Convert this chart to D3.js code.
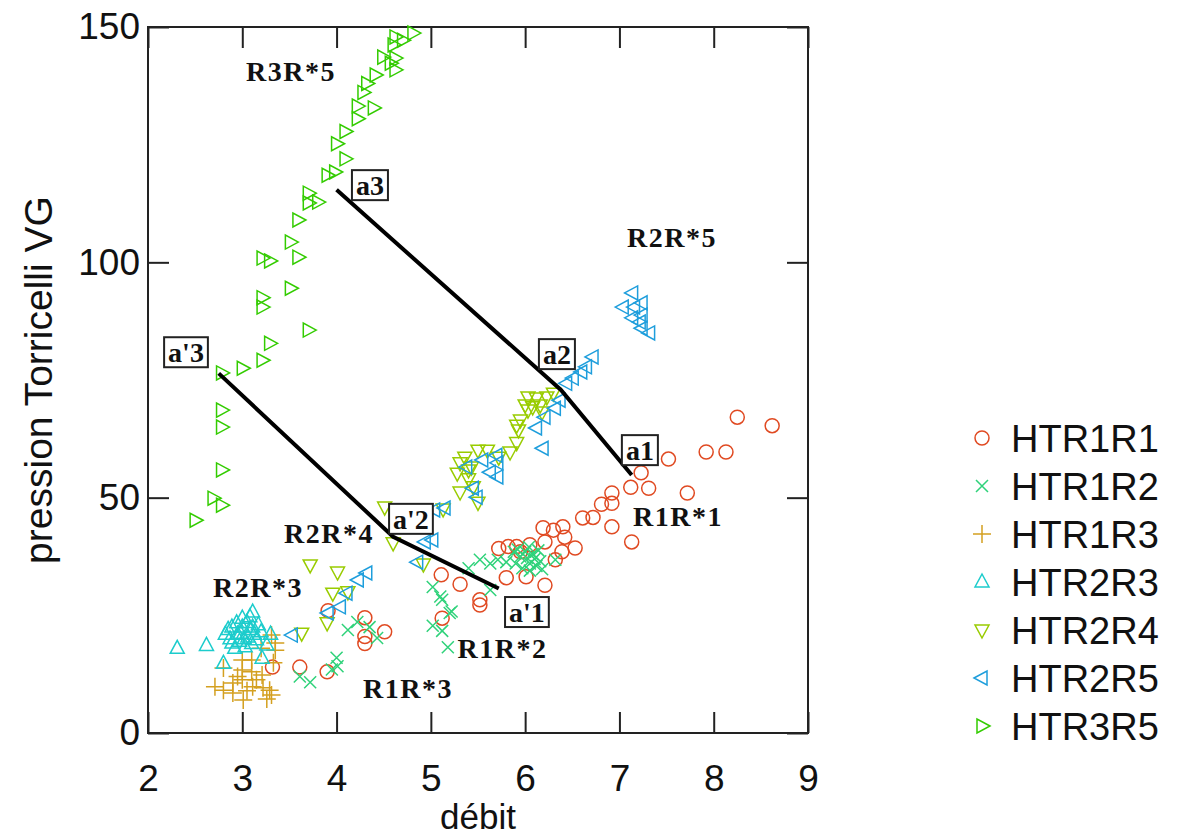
<!DOCTYPE html>
<html>
<head>
<meta charset="utf-8">
<script src="https://cdnjs.cloudflare.com/ajax/libs/d3/7.8.5/d3.min.js"></script>
<style>
body { margin: 0; background: #fff; }
text { font-family: "Liberation Sans", Arial, sans-serif; fill: #111; }
.note { font-family: "Liberation Serif", "Times New Roman", serif; font-weight: bold; }
</style>
</head>
<body>
<div id="scatter"></div>
<script>
// data: [débit, pression]
var seriesNames = ["HTR1R1", "HTR1R2", "HTR1R3", "HTR2R3", "HTR2R4", "HTR2R5", "HTR3R5"];

var htr1r1 = [[3.32,14],[3.61,14],[3.9,13],[3.91,26],[4.3,24.5],[4.3,20.5],[4.3,19],[4.51,21.5],
    [5.11,33.6],[5.12,24.4],[5.31,31.6],[5.52,28.3],[5.52,27.2],[5.72,39.2],[5.8,33],[5.82,39.6],
    [5.91,39.6],[5.95,38.5],[6.01,33.2],[6.05,40],[6.19,43.6],[6.21,40.6],[6.21,31.4],[6.3,43.1],
    [6.32,36.8],[6.39,38.5],[6.4,43.8],[6.42,41.6],[6.53,39.3],[6.61,45.7],[6.72,45.8],[6.81,48.6],
    [6.92,51],[6.92,48.8],[6.92,43.8],[7.12,52.2],[7.13,40.6],[7.23,55.3],[7.31,52],[7.52,58.2],
    [7.72,51],[7.92,59.7],[8.13,59.7],[8.25,67.1],[8.62,65.3]];

var htr1r2 = [[3.61,12],[3.72,10.8],[3.95,13.5],[4.0,16],[4.01,14.2],[4.12,21.9],[4.22,23.6],
    [4.35,22.5],[4.43,20.2],[5.02,31],[5.1,29],[5.12,28.3],[5.2,25.5],[5.22,25.8],[5.02,22.8],
    [5.12,21.7],[5.18,18.2],[5.4,35],[5.52,36.8],[5.63,36],[5.63,30.4],[5.71,36.8],[5.8,36.3],
    [5.88,38.5],[5.9,36],[5.92,39],[5.95,37.5],[5.97,35],[6.0,38.5],[6.02,37.2],[6.04,39.5],
    [6.05,36],[6.08,38],[6.1,37],[6.12,35.5],[6.14,38.8],[6.16,36.5],[6.18,34.8],[6.05,34.5],[6.32,36.8]];

var htr1r3 = [[2.71,9.8],[2.8,13.8],[2.8,9.1],[2.9,8.5],[2.9,10.6],[3.0,15.5],[3.0,13.4],[3.0,11.3],
    [3.01,7],[3.05,9],[3.1,15.5],[3.1,13],[3.11,9.8],[3.15,11.3],[3.21,12.3],[3.22,9.6],[3.26,7.2],
    [3.29,9.1],[3.31,8.1],[3.33,14.9],[3.35,17.6],[3.35,19.1],[3.31,20.8],[3.2,18],[2.95,12]];

var htr2r3 = [[2.31,18],[2.62,18.6],[2.8,14.8],[2.82,21],[2.85,22],[2.87,20],[2.89,22.5],[2.89,19.1],
    [2.92,18],[2.94,23.4],[2.95,21],[2.97,19.5],[2.98,21.2],[3.0,24.4],[3.0,22.5],[3.02,20],
    [3.03,18.3],[3.05,23.5],[3.06,20.4],[3.08,24.7],[3.08,22],[3.1,19],[3.11,25.7],[3.11,22.5],
    [3.13,21],[3.15,19.8],[3.17,23],[3.2,21.5],[3.21,15.9],[3.26,18.7],[3.3,21]];

var htr2r4 = [[3.63,21.2],[3.72,35.7],[3.9,23.4],[3.96,29.7],[4.01,34.2],[4.12,30],[4.51,48],
    [4.6,40.4],[4.92,35.9],[5.13,47.6],[5.28,55.2],[5.31,57.4],[5.31,51.2],[5.36,58.6],[5.4,55.9],
    [5.4,54],[5.43,56.5],[5.45,52.3],[5.5,49],[5.5,60.1],[5.6,60.1],[5.72,58.6],[5.84,59.7],
    [5.91,61.7],[5.91,65.4],[5.93,64.4],[5.95,66.5],[6.0,69.7],[6.03,71.4],[6.03,68.6],[6.08,69.3],
    [6.12,71.2],[6.16,69.7],[6.18,68.2],[6.23,71.4],[6.3,72.2]];

var htr2r5 = [[3.53,20.8],[3.91,25.5],[4.04,26.8],[4.11,29.7],[4.23,32.5],[4.32,34],[4.86,36.3],
    [4.94,40.6],[5.02,41],[5.04,47.4],[5.15,47.8],[5.38,56.5],[5.45,52],[5.49,50.1],[5.55,58],
    [5.63,55.4],[5.7,59],[5.71,57.4],[5.71,54.4],[6.12,64.8],[6.19,60.5],[6.21,67.1],[6.32,69],
    [6.37,70.7],[6.44,74.3],[6.51,75.4],[6.6,76.7],[6.65,77.8],[6.72,79.9],[7.04,90.5],[7.14,93.5],
    [7.16,90.5],[7.24,91.4],[7.14,88.2],[7.24,88.8],[7.22,87.3],[7.24,86],[7.32,85]];

var htr3r5 = [[2.5,45.2],[2.69,49.9],[2.78,48.4],[2.78,55.9],[2.78,65],[2.78,68.6],[2.78,76.5],
    [3.0,77.5],[3.21,79.2],[3.29,82.8],[3.7,85.6],[3.21,90.5],[3.21,92.5],[3.51,94.5],[3.21,100.9],
    [3.29,100.3],[3.51,104.3],[3.59,101.1],[3.59,109],[3.7,112.6],[3.7,114.7],[3.8,112.8],[3.9,118.5],
    [3.98,119.2],[4.09,122],[4.0,125.2],[4.09,127.8],[4.22,130.5],[4.22,133.2],[4.39,132.8],
    [4.28,136.1],[4.32,138],[4.41,139.8],[4.49,143.6],[4.57,142.3],[4.62,143.4],[4.62,140.9],
    [4.6,146.2],[4.62,147.9],[4.7,147.2],[4.81,148.7]];

// the two drawn lines a3-a2-a1 and a'3-a'2-a'1
var lineA = [[4.0,115.4],[6.38,72.9],[7.13,54.8]];
var lineA2 = [[2.75,76.4],[4.6,41.7],[5.72,30.7]];

// boxed points and group names
var boxLabels = [
    {text: "a3", x: 4.354, y: 116.4}, {text: "a2", x: 6.337, y: 80.5}, {text: "a1", x: 7.217, y: 60.1},
    {text: "a'3", x: 2.403, y: 80.9}, {text: "a'2", x: 4.789, y: 45.5}, {text: "a'1", x: 6.019, y: 25.7}
];
var groupLabels = [
    {text: "R3R*5", x: 3.516, y: 140.7}, {text: "R2R*5", x: 7.557, y: 105.4},
    {text: "R1R*1", x: 7.621, y: 46.1}, {text: "R2R*4", x: 3.919, y: 42.5},
    {text: "R2R*3", x: 3.166, y: 31.0}, {text: "R1R*2", x: 5.759, y: 18.1},
    {text: "R1R*3", x: 4.757, y: 9.6}
];

var xTicks = [2, 3, 4, 5, 6, 7, 8, 9];
var yTicks = [0, 50, 100, 150];

var allSeries = [htr1r1, htr1r2, htr1r3, htr2r3, htr2r4, htr2r5, htr3r5];
var colors = ["#e04a22", "#2fd27a", "#d4a020", "#1ccccc", "#99cc00", "#1e9edc", "#33cc00"];
var shapes = ["circle", "cross", "plus", "up", "down", "left", "right"];

// set up our chart
var svgWidth = 1178;
var svgHeight = 836;
var margin = {top: 27, right: 370, bottom: 103, left: 148};
var width = svgWidth - margin.left - margin.right;
var height = svgHeight - margin.top - margin.bottom;

var svg = d3.select("#scatter")
    .append("svg")
    .attr("width", svgWidth)
    .attr("height", svgHeight);

var chartGroup = svg.append("g")
    .attr("transform", `translate(${margin.left}, ${margin.top})`);

var xLinearScale = d3.scaleLinear().domain([2, 9]).range([0, width]);
var yLinearScale = d3.scaleLinear().domain([0, 150]).range([height, 0]);

// marker outline for each shape, centred on 0,0
function markerPath(shape) {
    if (shape === "circle") return "M-7,0a7,7 0 1,0 14,0a7,7 0 1,0 -14,0";
    if (shape === "cross") return "M-6,-6L6,6M-6,6L6,-6";
    if (shape === "plus") return "M-9,0L9,0M0,-9L0,9";
    if (shape === "up") return "M0,-8L7,5L-7,5Z";
    if (shape === "down") return "M0,8L7,-5L-7,-5Z";
    if (shape === "left") return "M-8,0L5,-7L5,7Z";
    return "M8,0L-5,-7L-5,7Z";
}

// inward ticks on all four sides
var tickLen = 21;
function styleAxis(g) {
    g.select(".domain").remove();
    g.selectAll(".tick line").attr("stroke", "#222").attr("stroke-width", 2);
    g.selectAll(".tick text").style("font-size", "37px").attr("fill", "#111");
}

chartGroup.append("g")
    .attr("transform", `translate(0, ${height})`)
    .call(d3.axisBottom(xLinearScale).tickValues(xTicks).tickSize(-tickLen).tickPadding(32).tickFormat(d3.format("d")))
    .call(styleAxis);

chartGroup.append("g")
    .call(d3.axisTop(xLinearScale).tickValues(xTicks).tickSize(-tickLen).tickFormat(""))
    .call(styleAxis);

chartGroup.append("g")
    .call(d3.axisLeft(yLinearScale).tickValues(yTicks).tickSize(-tickLen).tickPadding(8).tickFormat(d3.format("d")))
    .call(styleAxis);

chartGroup.append("g")
    .attr("transform", `translate(${width}, 0)`)
    .call(d3.axisRight(yLinearScale).tickValues(yTicks).tickSize(-tickLen).tickFormat(""))
    .call(styleAxis);

// frame
chartGroup.append("rect")
    .attr("width", width)
    .attr("height", height)
    .attr("fill", "none")
    .attr("stroke", "#222")
    .attr("stroke-width", 2);

// points
allSeries.forEach(function(data, i) {
    chartGroup.append("g")
        .selectAll("path")
        .data(data)
        .enter()
        .append("path")
        .attr("transform", d => `translate(${xLinearScale(d[0])}, ${yLinearScale(d[1])})`)
        .attr("d", markerPath(shapes[i]))
        .attr("fill", "none")
        .attr("stroke", colors[i])
        .attr("stroke-width", 1.5);
});

// black lines
var line = d3.line()
    .x(d => xLinearScale(d[0]))
    .y(d => yLinearScale(d[1]));

[lineA, lineA2].forEach(function(pts) {
    chartGroup.append("path")
        .attr("d", line(pts))
        .attr("fill", "none")
        .attr("stroke", "#000")
        .attr("stroke-width", 4);
});

// group names
chartGroup.selectAll(".group-label")
    .data(groupLabels)
    .enter()
    .append("text")
    .attr("class", "note group-label")
    .attr("x", d => xLinearScale(d.x))
    .attr("y", d => yLinearScale(d.y))
    .attr("text-anchor", "middle")
    .attr("dy", "0.35em")
    .style("font-size", "28px")
    .style("letter-spacing", "1.5px")
    .text(d => d.text);

// boxed labels
boxLabels.forEach(function(d) {
    var g = chartGroup.append("g")
        .attr("transform", `translate(${xLinearScale(d.x)}, ${yLinearScale(d.y)})`);
    var rect = g.append("rect");
    var t = g.append("text")
        .attr("class", "note")
        .attr("text-anchor", "middle")
        .attr("dy", "0.35em")
        .style("font-size", "28px")
        .text(d.text);
    var bb = t.node().getBBox();
    rect.attr("x", bb.x - 4)
        .attr("y", -15)
        .attr("width", bb.width + 8)
        .attr("height", 30)
        .attr("fill", "#fff")
        .attr("stroke", "#222")
        .attr("stroke-width", 2);
});

// axis titles
svg.append("text")
    .attr("x", margin.left + width / 2)
    .attr("y", 829)
    .attr("text-anchor", "middle")
    .style("font-size", "35px")
    .text("débit");

svg.append("text")
    .attr("transform", `translate(52, ${margin.top + height / 2}) rotate(-90)`)
    .attr("text-anchor", "middle")
    .style("font-size", "39px")
    .text("pression Torricelli VG");

// legend
var legend = svg.append("g")
    .attr("transform", "translate(982, 438)");

seriesNames.forEach(function(name, i) {
    var row = legend.append("g")
        .attr("transform", `translate(0, ${i * 48})`);
    row.append("path")
        .attr("d", markerPath(shapes[i]))
        .attr("fill", "none")
        .attr("stroke", colors[i])
        .attr("stroke-width", 1.5);
    row.append("text")
        .attr("x", 29)
        .attr("dy", "0.36em")
        .style("font-size", "38px")
        .text(name);
});
</script>
</body>
</html>
